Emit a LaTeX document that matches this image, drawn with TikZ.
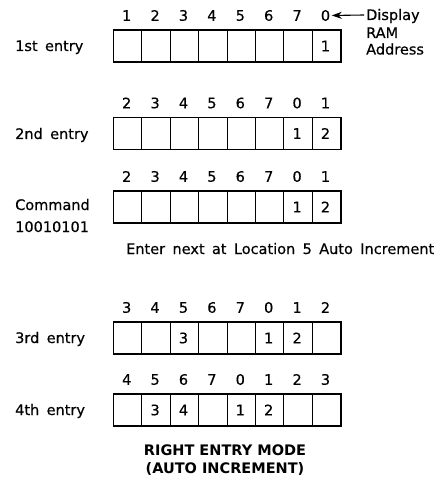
\documentclass[tikz,border=0pt]{standalone}
\usepackage{fontspec}
\setmainfont[WordSpace=1.6,FakeBold=0.4]{DejaVu Sans}
\newfontfamily\titlefont{DejaVu Sans Bold}
\usetikzlibrary{arrows.meta}
\newcommand\regrow[3]{%
  \foreach \h/\c [count=\i] in {#3} {
    \node[cell] (#1c\i) at ({113.5+28.4*(\i-0.5)},#2+16) {};
    \node[idx] (#1v\i) at ({112.5+28.4*(\i-0.5)},#2+16) {\c};
    \node[idx] (#1h\i) at ({112.5+28.4*(\i-0.5)},#2-14.5) {\h};
  }
  \draw[frame] (#1c1.north west) rectangle (#1c8.south east);
}
\begin{document}
\begin{tikzpicture}[x=1bp,y=-1bp,
  txt/.style={font=\fontsize{14.5bp}{17bp}\selectfont,inner sep=0},
  cell/.style={draw,line width=0.9bp,minimum width=28.4bp,minimum height=32bp,inner sep=0,outer sep=0},
  idx/.style={txt},
  lbl/.style={txt,anchor=base west},
  ttl/.style={font=\fontsize{14.5bp}{17bp}\titlefont,inner sep=0,anchor=base},
  frame/.style={draw,line width=1.7bp}]
\useasboundingbox (0,0) rectangle (447,477);
\regrow{A}{30}{1/{},2/{},3/{},4/{},5/{},6/{},7/{},0/1}
\regrow{B}{117.5}{2/{},3/{},4/{},5/{},6/{},7/{},0/1,1/2}
\regrow{C}{191}{2/{},3/{},4/{},5/{},6/{},7/{},0/1,1/2}
\regrow{D}{322}{3/{},4/{},5/3,6/{},7/{},0/1,1/2,2/{}}
\regrow{E}{394}{4/{},5/3,6/4,7/{},0/1,1/2,2/{},3/{}}
\node[lbl] (l1) at (15,51) {1st entry};
\node[lbl] (l2) at (15,139) {2nd entry};
\node[lbl] (l3a) at (15,210) {Command};
\node[lbl] (l3b) at (15,232) {10010101};
\node[lbl] (enter) at (126,254) {Enter next at Location 5 Auto Increment};
\node[lbl] (l4) at (15,343) {3rd entry};
\node[lbl] (l5) at (15,415) {4th entry};
\node[lbl] (disp) at (366,20) {Display};
\node[lbl] (ram) at (366,38) {RAM};
\node[lbl] (addr) at (366,54.5) {Address};
\coordinate (arrs) at (364,15);
\draw[line width=1.1bp,-{Stealth[length=10bp,width=7bp]},shorten >=1.5bp] (arrs) -- (Ah8.east);
\node[ttl] (t1) at (225,455) {RIGHT ENTRY MODE};
\node[ttl] (t2) at (225,473) {(AUTO INCREMENT)};
\end{tikzpicture}
\end{document}
